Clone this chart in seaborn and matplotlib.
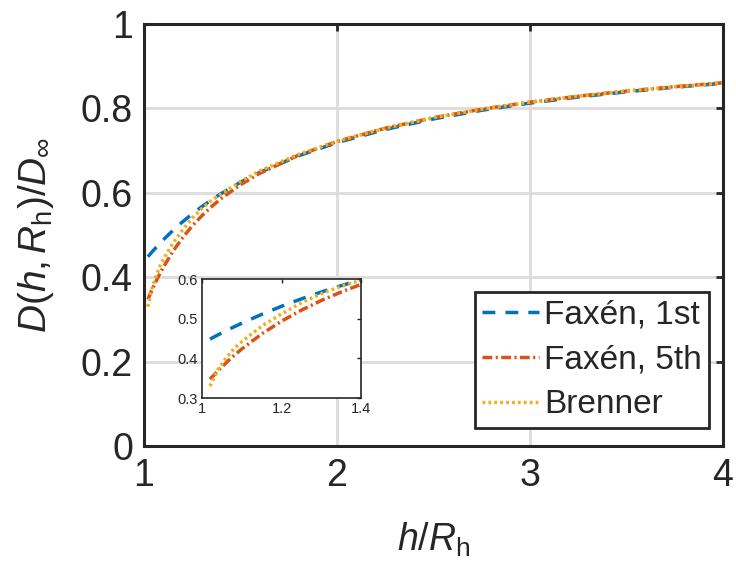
import matplotlib
matplotlib.use("Agg")
import matplotlib.pyplot as plt
import seaborn as sns
import pandas as pd
from matplotlib.ticker import FixedLocator, FuncFormatter

# ---- data ----
h_vals = [1.02, 1.04, 1.06, 1.08, 1.10, 1.15, 1.20, 1.25, 1.30, 1.35, 1.40,
          1.50, 1.60, 1.80, 2.00, 2.25, 2.50, 2.75, 3.00, 3.25, 3.50, 3.75, 4.00]
faxen_1st = [0.4485, 0.4591, 0.4693, 0.4792, 0.4886, 0.5109, 0.5313, 0.5500,
             0.5673, 0.5833, 0.5982, 0.6250, 0.6484, 0.6875, 0.7188, 0.7500,
             0.7750, 0.7955, 0.8125, 0.8269, 0.8393, 0.8500, 0.8594]
faxen_5th = [0.3473, 0.3686, 0.3884, 0.4067, 0.4237, 0.4615, 0.4937, 0.5215,
             0.5458, 0.5673, 0.5864, 0.6191, 0.6462, 0.6889, 0.7214, 0.7530,
             0.7779, 0.7980, 0.8147, 0.8288, 0.8409, 0.8514, 0.8606]
brenner = [0.330, 0.372, 0.400, 0.424, 0.442, 0.481, 0.512, 0.540, 0.563,
           0.582, 0.597, 0.627, 0.652, 0.691, 0.722, 0.753, 0.778, 0.798,
           0.815, 0.829, 0.841, 0.851, 0.860]
series_names = ["Faxén, 1st", "Faxén, 5th", "Brenner"]
x_ticks = [1, 2, 3, 4]
y_ticks = [0, 0.2, 0.4, 0.6, 0.8, 1]
inset_x_ticks = [1, 1.2, 1.4]
inset_y_ticks = [0.3, 0.4, 0.5, 0.6]

df = pd.DataFrame({
    "h": h_vals * 3,
    "D": faxen_1st + faxen_5th + brenner,
    "series": [series_names[0]] * len(h_vals) + [series_names[1]] * len(h_vals)
              + [series_names[2]] * len(h_vals),
})

palette = {series_names[0]: "#0072BD", series_names[1]: "#D95319",
           series_names[2]: "#EDB120"}
dashes = {series_names[0]: (3.7, 2.9), series_names[1]: (2.8, 1.0, 0.6, 1.0),
          series_names[2]: (0.8, 0.9)}

sns.set_theme(style="white")
plt.rcParams["font.family"] = ["Liberation Sans", "DejaVu Sans"]
plt.rcParams["mathtext.fontset"] = "custom"
plt.rcParams["mathtext.rm"] = "Liberation Sans"
plt.rcParams["mathtext.it"] = "Liberation Sans:italic"
plt.rcParams["mathtext.bf"] = "Liberation Sans:bold"

fig = plt.figure(figsize=(7.36, 5.69), dpi=100)
ax = fig.add_axes([0.1957, 0.2162, 0.7867, 0.7417])

frame_c = "#262626"
sns.lineplot(data=df, x="h", y="D", hue="series", style="series",
             hue_order=series_names, style_order=series_names,
             palette=palette, dashes=dashes, linewidth=2.5, ax=ax,
             legend=False, sort=False)

ax.set_xlim(1, 4)
ax.set_ylim(0, 1)
ax.xaxis.set_major_locator(FixedLocator(x_ticks))
ax.yaxis.set_major_locator(FixedLocator(y_ticks))
fmt = FuncFormatter(lambda v, p: f"{v:g}")
ax.xaxis.set_major_formatter(fmt)
ax.yaxis.set_major_formatter(fmt)
ax.grid(True, color="#dcdcdc", linewidth=2.0)
ax.set_axisbelow(True)
for s in ax.spines.values():
    s.set_color(frame_c)
    s.set_linewidth(2.2)
ax.tick_params(direction="in", length=5, width=2, colors=frame_c,
               labelsize=27, top=True, right=True)
ax.tick_params(axis="x", pad=9)
ax.tick_params(axis="y", pad=8)
ax.tick_params(labelcolor="#262626")
ax.set_xlabel(r"$h/R_\mathrm{h}$", fontsize=27, color="#262626")
ax.set_ylabel(r"$D(h,R_\mathrm{h})/D_\infty$", fontsize=28, color="#262626")
ax.xaxis.set_label_coords(0.5, -0.178)
ax.yaxis.set_label_coords(-0.152, 0.5)

leg = ax.legend(handles=ax.lines[:3], labels=series_names, loc="upper right",
                bbox_to_anchor=(0.976, 0.365), borderaxespad=0, fontsize=24,
                frameon=True, fancybox=False, framealpha=1, edgecolor=frame_c,
                handlelength=1.7, handletextpad=0.15, labelspacing=0.42,
                borderpad=0.22)
leg.get_frame().set_linewidth(2.0)

# ---- inset ----
ax_in = fig.add_axes([0.2745, 0.3005, 0.216, 0.2091])
sns.lineplot(data=df, x="h", y="D", hue="series", style="series",
             hue_order=series_names, style_order=series_names,
             palette=palette, dashes=dashes, linewidth=2.5, ax=ax_in,
             legend=False, sort=False)
ax_in.set_facecolor("white")
ax_in.set_xlim(1, 1.4)
ax_in.set_ylim(0.3, 0.6)
ax_in.xaxis.set_major_locator(FixedLocator(inset_x_ticks))
ax_in.yaxis.set_major_locator(FixedLocator(inset_y_ticks))
ax_in.xaxis.set_major_formatter(fmt)
ax_in.yaxis.set_major_formatter(fmt)
ax_in.grid(False)
for s in ax_in.spines.values():
    s.set_color(frame_c)
    s.set_linewidth(1.2)
ax_in.tick_params(direction="in", length=3, width=1, colors=frame_c,
                  labelsize=10.5, top=True, right=True, pad=3)
ax_in.set_xlabel("")
ax_in.set_ylabel("")

fig.savefig("out.png", dpi=100)
